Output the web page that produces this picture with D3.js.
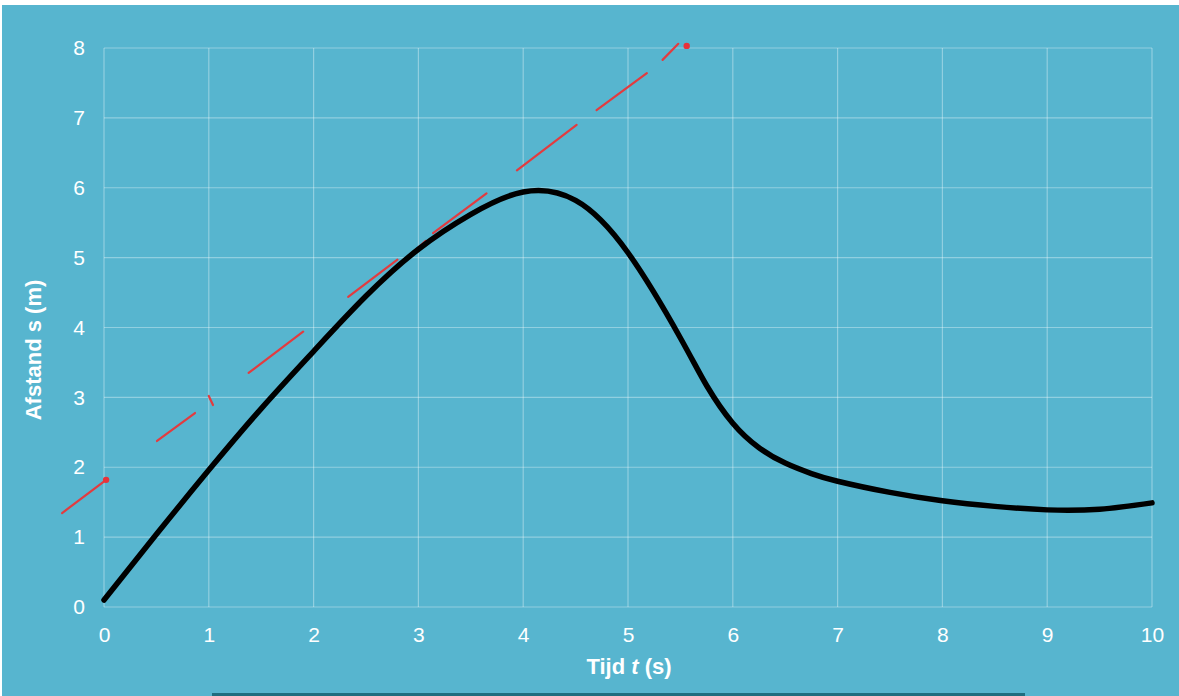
<!DOCTYPE html>
<html><head><meta charset="utf-8">
<script src="https://cdn.jsdelivr.net/npm/d3@7"></script>
<style>
html,body{margin:0;padding:0;background:#fff;overflow:hidden}
text{font-family:"Liberation Sans",Arial,sans-serif;fill:#fff}
</style></head>
<body><svg id="c" width="1179" height="696"></svg>
<script>
// data
const times = [0,0.5,1,1.5,2,2.5,3,3.5,4,4.5,5,5.5,5.75,6,6.25,6.5,6.75,7,7.5,8,8.5,9,9.5,10];
const distances = [0.1,1.04,1.96,2.84,3.66,4.45,5.12,5.62,5.94,5.82,5.07,3.85,3.17,2.63,2.28,2.06,1.91,1.80,1.64,1.52,1.44,1.39,1.40,1.49];
const xTicks = [0,1,2,3,4,5,6,7,8,9,10];
const yTicks = [0,1,2,3,4,5,6,7,8];
// hand-drawn red tangent strokes [t1,s1,t2,s2]
const tangentDashes = [
  [-0.40,1.345,0.03,1.83],
  [0.506,2.376,0.868,2.776],
  [1.00,3.02,1.04,2.89],
  [1.38,3.35,1.90,3.94],
  [2.33,4.44,2.80,4.97],
  [2.90,5.01,3.07,5.24],
  [3.14,5.35,3.65,5.92],
  [3.94,6.25,4.51,6.90],
  [4.70,7.11,5.18,7.64],
  [5.33,7.83,5.48,8.06]
];
const tangentDots = [[0.02,1.82],[5.56,8.03]];

const svg = d3.select("#c");
const W=1179,H=696;
svg.append("rect").attr("x",2).attr("y",5).attr("width",W-2).attr("height",H-5).attr("fill","#57b5cf");
svg.append("rect").attr("x",212).attr("y",693).attr("width",813).attr("height",3).attr("fill","#1f6d7f");

const x = d3.scaleLinear().domain([0,10]).range([104,1152]);
const y = d3.scaleLinear().domain([0,8]).range([607,48]);
const grid = "rgba(255,255,255,0.35)";

const g = svg.append("g");
g.selectAll("line.v").data(xTicks).join("line")
 .attr("x1",d=>x(d)).attr("x2",d=>x(d)).attr("y1",y(0)).attr("y2",y(8))
 .attr("stroke",grid).attr("stroke-width",1.2);
g.selectAll("line.h").data(yTicks).join("line")
 .attr("y1",d=>y(d)).attr("y2",d=>y(d)).attr("x1",x(0)).attr("x2",x(10))
 .attr("stroke",grid).attr("stroke-width",1.2);

// axes
const xAxis = d3.axisBottom(x).tickValues(xTicks).tickSize(0).tickPadding(20);
const gx = svg.append("g").attr("transform",`translate(0,${y(0)})`).call(xAxis);
gx.attr("font-size",21).attr("font-family","'Liberation Sans',Arial,sans-serif");
gx.select(".domain").remove();
gx.selectAll("text").attr("fill","#fff");
const yAxis = d3.axisLeft(y).tickValues(yTicks).tickSize(0).tickPadding(19);
const gy = svg.append("g").attr("transform",`translate(${x(0)},0)`).call(yAxis);
gy.attr("font-size",21).attr("font-family","'Liberation Sans',Arial,sans-serif");
gy.select(".domain").remove();
gy.selectAll("text").attr("fill","#fff");

// titles
const xt = svg.append("text").attr("x",629).attr("y",674).attr("text-anchor","middle")
 .attr("font-size",22).attr("font-weight","bold");
xt.append("tspan").text("Tijd ");
xt.append("tspan").attr("font-style","italic").text("t");
xt.append("tspan").text(" (s)");
svg.append("text").attr("transform","translate(41,350) rotate(-90)").attr("text-anchor","middle")
 .attr("font-size",22).attr("font-weight","bold").text("Afstand s (m)");

// red tangent
svg.selectAll("line.t").data(tangentDashes).join("line")
 .attr("x1",d=>x(d[0])).attr("y1",d=>y(d[1])).attr("x2",d=>x(d[2])).attr("y2",d=>y(d[3]))
 .attr("stroke","#e33b3f").attr("stroke-width",2.2).attr("stroke-linecap","round");
svg.selectAll("circle.t").data(tangentDots).join("circle")
 .attr("cx",d=>x(d[0])).attr("cy",d=>y(d[1])).attr("r",3.2).attr("fill","#e8323a");

// curve
const line = d3.line().x((d,i)=>x(times[i])).y(d=>y(d)).curve(d3.curveNatural);
svg.append("path").attr("d",line(distances)).attr("fill","none")
 .attr("stroke","#000").attr("stroke-width",5.5).attr("stroke-linecap","round");
</script></body></html>
